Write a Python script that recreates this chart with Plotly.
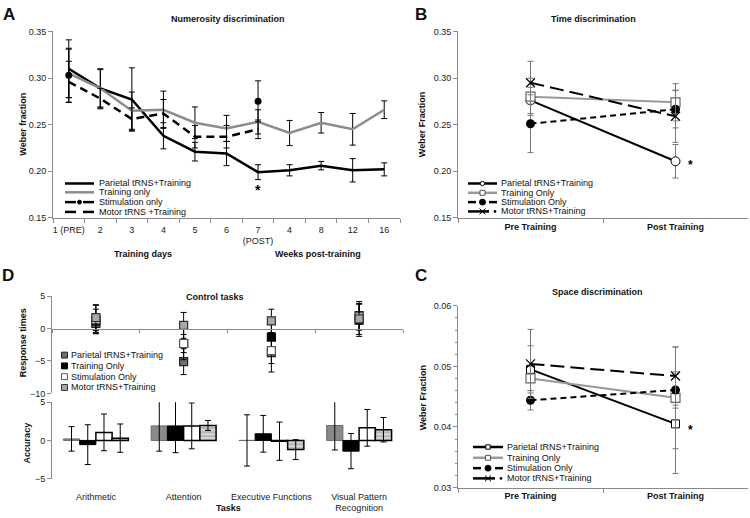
import plotly.graph_objects as go

# ---------------- Panel A: Numerosity discrimination ----------------
a_ticklabels = ["1 (PRE)", "2", "3", "4", "5", "6", "7<br>(POST)", "4", "8", "12", "16"]
a_x = list(range(len(a_ticklabels)))
a_parietal = [0.310, 0.289, 0.277, 0.238, 0.221, 0.219, 0.199, 0.201, 0.206, 0.201, 0.202]
a_parietal_err = [0.031, 0.021, 0.034, 0.014, 0.010, 0.013, 0.008, 0.006, 0.0045, 0.0125, 0.007]
a_training = [0.305, 0.289, 0.265, 0.266, 0.252, 0.246, 0.253, 0.241, 0.252, 0.245, 0.266]
a_training_err = [0.026, 0.020, 0.020, 0.020, 0.017, 0.014, 0.013, 0.0135, 0.011, 0.017, 0.0095]
a_stim = [0.303, None, None, None, None, None, 0.275, None, None, None, None]
a_stim_err = [0.029, 0, 0, 0, 0, 0, 0.022, 0, 0, 0, 0]
a_motor = [0.296, 0.278, 0.256, 0.262, 0.237, 0.237, 0.245, None, None, None, None]
a_motor_err = [0.022, 0.011, 0.012, 0.015, 0.012, 0.012, 0.010, 0, 0, 0, 0]

# ---------------- Panel B: Time discrimination ----------------
bc_labels = ["Pre Training", "Post Training"]
b_parietal = [0.276, 0.2107]
b_parietal_err = [0.014, 0.018]
b_training = [0.280, 0.274]
b_training_err = [0.020, 0.020]
b_stim = [0.251, 0.2665]
b_stim_err = [0.031, 0.020]
b_motor = [0.295, 0.259]
b_motor_err = [0.023, 0.028]

# ---------------- Panel C: Space discrimination ----------------
c_parietal = [0.0495, 0.0405]
c_parietal_err = [0.0039, 0.0082]
c_training = [0.0480, 0.0448]
c_training_err = [0.0020, 0.0084]
c_stim = [0.0444, 0.0461]
c_stim_err = [0.0016, 0.0030]
c_motor = [0.0504, 0.0484]
c_motor_err = [0.0057, 0.0048]

# ---------------- Panel D: Control tasks ----------------
d_tasks = ["Arithmetic", "Attention", "Executive Functions", "Visual Pattern<br>Recognition"]
d_x = list(range(len(d_tasks)))
rt_parietal = [0.8, -5.1, -3.7, 2.0]
rt_parietal_err = [1.5, 2.0, 3.0, 2.2]
rt_training = [1.2, -2.3, -1.3, 1.3]
rt_training_err = [1.8, 2.5, 2.0, 2.5]
rt_stim = [1.4, -2.3, -3.4, 1.8]
rt_stim_err = [2.2, 1.4, 2.0, 2.0]
rt_motor = [1.7, 0.5, 1.2, 1.5]
rt_motor_err = [2.0, 2.0, 1.8, 2.4]

acc_parietal = [0.2, 1.9, 0.0, 1.95]
acc_parietal_err = [1.6, 3.3, 3.35, 3.2]
acc_training = [-0.55, 1.9, 0.87, -1.4]
acc_training_err = [2.6, 3.5, 2.4, 2.3]
acc_stim = [1.05, 1.9, -0.1, 1.65]
acc_stim_err = [2.4, 3.0, 2.5, 2.4]
acc_motor = [0.3, 1.95, -1.2, 1.4]
acc_motor_err = [1.85, 0.65, 1.3, 1.6]

series_names_A = ["Parietal tRNS+Training", "Training only", "Stimulation only", "Motor tRNS +Training"]
series_names_BCD = ["Parietal tRNS+Training", "Training Only", "Stimulation Only", "Motor tRNS+Training"]

FONT = "Liberation Sans, Arial, sans-serif"
GRAY_LINE = "#8c8c8c"
AXIS = "#8a8a8a"
W, H = 750, 518


def px_x(p):
    return p / W


def px_y(p):
    return 1 - p / H


fig = go.Figure()


def err(vals, color="black", width=3, thick=1):
    return dict(type="data", array=vals, visible=True, color=color, width=width, thickness=thick)


A_DASH = "8px,5px"
STIM_DASH = "6px,4px"
MOTOR_DASH = "14px,6px"

# ---- Panel A traces ----
fig.add_trace(go.Scatter(x=a_x, y=a_parietal, mode="lines", name=series_names_A[0],
                         line=dict(color="black", width=2.5), error_y=err(a_parietal_err),
                         xaxis="x", yaxis="y"))
fig.add_trace(go.Scatter(x=a_x, y=a_training, mode="lines", name=series_names_A[1],
                         line=dict(color=GRAY_LINE, width=2.5), error_y=err(a_training_err),
                         xaxis="x", yaxis="y"))
fig.add_trace(go.Scatter(x=a_x, y=a_stim, mode="lines+markers", name=series_names_A[2],
                         line=dict(color="black", width=2.5, dash=A_DASH), marker=dict(size=7, color="black"),
                         connectgaps=False, error_y=err(a_stim_err), xaxis="x", yaxis="y"))
fig.add_trace(go.Scatter(x=a_x, y=a_motor, mode="lines", name=series_names_A[3],
                         line=dict(color="black", width=2.5, dash=A_DASH), error_y=err(a_motor_err),
                         xaxis="x", yaxis="y"))

# ---- Panel B / C traces ----
for (xa, ya, vals) in [("x2", "y2", [(b_parietal, b_parietal_err), (b_training, b_training_err),
                                     (b_stim, b_stim_err), (b_motor, b_motor_err)]),
                       ("x3", "y3", [(c_parietal, c_parietal_err), (c_training, c_training_err),
                                     (c_stim, c_stim_err), (c_motor, c_motor_err)])]:
    par_sym = "circle" if xa == "x2" else "square"
    styles = [
        dict(line=dict(color="black", width=2),
             marker=dict(symbol=par_sym, size=9 if xa == "x2" else 8, color="white",
                         line=dict(color="black", width=1))),
        dict(line=dict(color="#999999", width=2),
             marker=dict(symbol="square", size=9, color="white", line=dict(color="#666", width=1.2))),
        dict(line=dict(color="black", width=2, dash=STIM_DASH),
             marker=dict(symbol="circle", size=9, color="black")),
        dict(line=dict(color="black", width=2, dash=MOTOR_DASH),
             marker=dict(symbol="x-thin", size=9, line=dict(color="black", width=1.2))),
    ]
    for (v, e), st, nm in zip(vals, styles, series_names_BCD):
        fig.add_trace(go.Scatter(x=bc_labels, y=v, mode="lines+markers", name=nm,
                                 error_y=err(e, "#777"), xaxis=xa, yaxis=ya, **st))

# ---- Panel D: response times ----
rt_fill = ["#6e6e6e", "black", "white", "#a8a8a8"]
rt_edge = ["#222", "black", "#555", "#333"]
for nm, vals, e, fill, edge in zip(series_names_BCD,
                                   [rt_parietal, rt_training, rt_stim, rt_motor],
                                   [rt_parietal_err, rt_training_err, rt_stim_err, rt_motor_err],
                                   rt_fill, rt_edge):
    fig.add_trace(go.Scatter(x=d_x, y=vals, mode="markers", name=nm,
                             marker=dict(symbol="square", size=8, color=fill, line=dict(color=edge, width=1.2)),
                             error_y=err(e), xaxis="x4", yaxis="y4"))

# ---- Panel D: accuracy bars ----
fig.add_trace(go.Bar(x=d_x, y=acc_parietal, name=series_names_BCD[0],
                     marker=dict(color="#8a8a8a", line=dict(color="#6a6a6a", width=1)),
                     error_y=err(acc_parietal_err), xaxis="x5", yaxis="y5"))
fig.add_trace(go.Bar(x=d_x, y=acc_training, name=series_names_BCD[1],
                     marker=dict(color="black", line=dict(color="black", width=1)),
                     error_y=err(acc_training_err), xaxis="x5", yaxis="y5"))
fig.add_trace(go.Bar(x=d_x, y=acc_stim, name=series_names_BCD[2],
                     marker=dict(color="white", line=dict(color="black", width=1.5)),
                     error_y=err(acc_stim_err), xaxis="x5", yaxis="y5"))
fig.add_trace(go.Bar(x=d_x, y=acc_motor, name=series_names_BCD[3],
                     marker=dict(color="#d6d6d6", line=dict(color="black", width=1.5),
                                 pattern=dict(shape="-", fgcolor="#8a8a8a", bgcolor="#d6d6d6", size=4, solidity=0.4)),
                     error_y=err(acc_motor_err), xaxis="x5", yaxis="y5"))

tickfont = dict(family=FONT, size=9, color="#222")


def yax(dom, rng, dtick, fmt, anchor, minor=None):
    d = dict(domain=dom, range=rng, dtick=dtick, tickformat=fmt, anchor=anchor,
             showline=True, linecolor=AXIS, linewidth=1, ticks="outside", ticklen=4,
             tickcolor=AXIS, showgrid=False, zeroline=False, tickfont=tickfont)
    if minor:
        d["minor"] = minor
    return d


yA = [px_y(217), px_y(27)]
yC = [px_y(492), px_y(306.7)]
yDt = [px_y(396), px_y(297)]
yDb = [px_y(483), px_y(405)]
xA = [px_x(53), px_x(400)]
xB = [px_x(458), px_x(748)]
xD = [px_x(52), px_x(403)]

rt_zero = yDt[0] + (yDt[1] - yDt[0]) * (10 / 15)
acc_zero = yDb[0] + (yDb[1] - yDb[0]) * (5 / 10)

boldtick = dict(family=FONT, size=9, color="#111", weight="bold")

fig.update_layout(
    width=W, height=H, margin=dict(l=0, r=0, t=0, b=0),
    paper_bgcolor="white", plot_bgcolor="white",
    font=dict(family=FONT, size=9, color="#222"),
    barmode="group", bargap=0.26, bargroupgap=0, showlegend=False,
    xaxis=dict(domain=xA, anchor="y", range=[-0.5, 10.5], tickmode="array", tickvals=a_x,
               ticktext=a_ticklabels, ticks="", showline=True, linecolor=AXIS, showgrid=False,
               zeroline=False, tickfont=tickfont, ticklabelstandoff=3,
               minor=dict(ticks="outside", tick0=0.5, dtick=1, ticklen=4, tickcolor=AXIS)),
    yaxis=yax(yA, [0.15, 0.35], 0.05, ".2f", "x"),
    xaxis2=dict(domain=xB, anchor="y2", type="category", range=[-0.5, 1.5], tickson="boundaries",
                ticks="outside", ticklen=4, tickcolor=AXIS, showline=True, linecolor=AXIS,
                showgrid=False, tickfont=boldtick),
    yaxis2=yax(yA, [0.15, 0.35], 0.05, ".2f", "x2"),
    xaxis3=dict(domain=xB, anchor="y3", type="category", range=[-0.5, 1.5], tickson="boundaries",
                ticks="outside", ticklen=4, tickcolor=AXIS, showline=True, linecolor=AXIS,
                showgrid=False, tickfont=boldtick),
    yaxis3=yax(yC, [0.03, 0.06], 0.01, ".2f", "x3",
               minor=dict(ticks="outside", dtick=0.002, ticklen=2, tickcolor=AXIS)),
    xaxis4=dict(domain=xD, anchor="free", position=rt_zero, range=[-0.5, 3.5], showticklabels=False,
                ticks="", showline=True, linecolor=AXIS, showgrid=False, zeroline=False,
                minor=dict(ticks="outside", tick0=0.5, dtick=1, ticklen=3, tickcolor=AXIS)),
    yaxis4=yax(yDt, [-10, 5], 5, "d", "x4"),
    xaxis5=dict(domain=xD, anchor="y5", range=[-0.5, 3.5], tickmode="array", tickvals=d_x,
                ticktext=d_tasks, ticks="", showline=False, showgrid=False, zeroline=False,
                tickfont=tickfont, ticklabelstandoff=11),
    yaxis5=yax(yDb, [-5, 5], 5, "d", "x5"),
    xaxis6=dict(domain=xD, anchor="free", position=acc_zero, overlaying="x5", range=[-0.5, 3.5],
                showticklabels=False, ticks="", showline=True, linecolor=AXIS, showgrid=False,
                zeroline=False,
                minor=dict(ticks="outside", tick0=0.5, dtick=1, ticklen=3, tickcolor=AXIS)),
)

ann = []
shapes = []


def pa(text, x, y, size=9, bold=True, xanchor="center", yanchor="middle", angle=0):
    ann.append(dict(text=("<b>%s</b>" % text) if bold else text, x=px_x(x), y=px_y(y),
                    xref="paper", yref="paper", showarrow=False, xanchor=xanchor, yanchor=yanchor,
                    textangle=angle, font=dict(family=FONT, size=size, color="#111")))


def sline(x0, x1, y0, y1, color, width, dash="solid"):
    shapes.append(dict(type="line", xref="paper", yref="paper", x0=px_x(x0), x1=px_x(x1),
                       y0=px_y(y0), y1=px_y(y1), line=dict(color=color, width=width, dash=dash)))


def scircle(cx, cy, r, fill, edge, lw=1):
    shapes.append(dict(type="circle", xref="paper", yref="paper", x0=px_x(cx - r), x1=px_x(cx + r),
                       y0=px_y(cy + r), y1=px_y(cy - r), fillcolor=fill, line=dict(color=edge, width=lw)))


def srect(cx, cy, h, fill, edge, lw=1):
    shapes.append(dict(type="rect", xref="paper", yref="paper", x0=px_x(cx - h), x1=px_x(cx + h),
                       y0=px_y(cy + h), y1=px_y(cy - h), fillcolor=fill, line=dict(color=edge, width=lw)))


# ---- legend A ----
legA_rows = [182, 191, 201, 211]
for i, (nm, y) in enumerate(zip(series_names_A, legA_rows)):
    if i == 0:
        sline(65, 94, y, y, "black", 2.5)
    elif i == 1:
        sline(65, 94, y, y, GRAY_LINE, 2.5)
    else:
        sline(65, 76, y, y, "black", 2.5)
        sline(83, 94, y, y, "black", 2.5)
        if i == 2:
            scircle(79.5, y, 2, "black", "black")
    pa(nm, 97, y, bold=False, xanchor="left")


def bc_legend(rows, x0, x1, xt, par_square):
    cx = (x0 + x1) / 2
    for i, (nm, y) in enumerate(zip(series_names_BCD, rows)):
        if i == 0:
            sline(x0, x1, y, y, "black", 2.5)
            if par_square:
                srect(cx, y, 2.2, "white", "black")
            else:
                scircle(cx, y, 2.2, "white", "black")
        elif i == 1:
            sline(x0, x1, y, y, "#999999", 2.5)
            srect(cx, y, 2.5, "white", "#555")
        elif i == 2:
            sline(x0, x0 + 8, y, y, "black", 2.5)
            sline(x1 - 8, x1, y, y, "black", 2.5)
            scircle(cx, y, 3, "black", "black")
        else:
            sline(x0, x1 - 8, y, y, "black", 2.5)
            sline(cx - 3, cx + 3, y - 3, y + 3, "black", 1)
            sline(cx - 3, cx + 3, y + 3, y - 3, "black", 1)
            scircle(x1 - 2, y, 1, "black", "black")
        pa(nm, xt, y, bold=False, xanchor="left")


bc_legend([182, 191.5, 201, 210.5], 468, 497, 499, False)
bc_legend([450.7, 461.7, 472.3, 482.7], 473, 503, 505, True)

# ---- legend D ----
legD_rows = [357, 368, 379, 390]
for nm, y, fill, edge in zip(series_names_BCD, legD_rows, rt_fill, rt_edge):
    srect(64.5, y, 3, fill, edge, 1)
    pa(nm, 69, y, bold=False, xanchor="left")

# panel letters
pa("A", 9, 9.5, size=17)
pa("B", 421, 9.5, size=17)
pa("C", 421, 276, size=17)
pa("D", 8, 276, size=17)
# titles
pa("Numerosity discrimination", 228, 14)
pa("Time discrimination", 593, 14)
pa("Space discrimination", 597, 293)
pa("Control tasks", 215, 298)
# axis titles
pa("Weber fraction", 23, 122, angle=-90)
pa("Weber Fraction", 421.5, 122, angle=-90)
pa("Weber Fraction", 423, 400, angle=-90)
pa("Response times", 23, 345, angle=-90)
pa("Accuracy", 27, 446, angle=-90)
pa("Training days", 143, 254)
pa("Weeks post-training", 318, 254)
pa("Tasks", 228, 513)

# significance stars
ann.append(dict(text="<b>*</b>", x=6, y=0.180, xref="x", yref="y", showarrow=False,
                font=dict(family=FONT, size=14, color="black")))
ann.append(dict(text="<b>*</b>", x="Post Training", y=0.207, xref="x2", yref="y2", showarrow=False,
                xshift=15, font=dict(family=FONT, size=12, color="black")))
ann.append(dict(text="<b>*</b>", x="Post Training", y=0.0395, xref="x3", yref="y3", showarrow=False,
                xshift=15, font=dict(family=FONT, size=12, color="black")))

fig.update_layout(annotations=ann, shapes=shapes)
fig.write_html("out.html", config={"displayModeBar": False},
               post_script="document.body.style.margin='0';")
